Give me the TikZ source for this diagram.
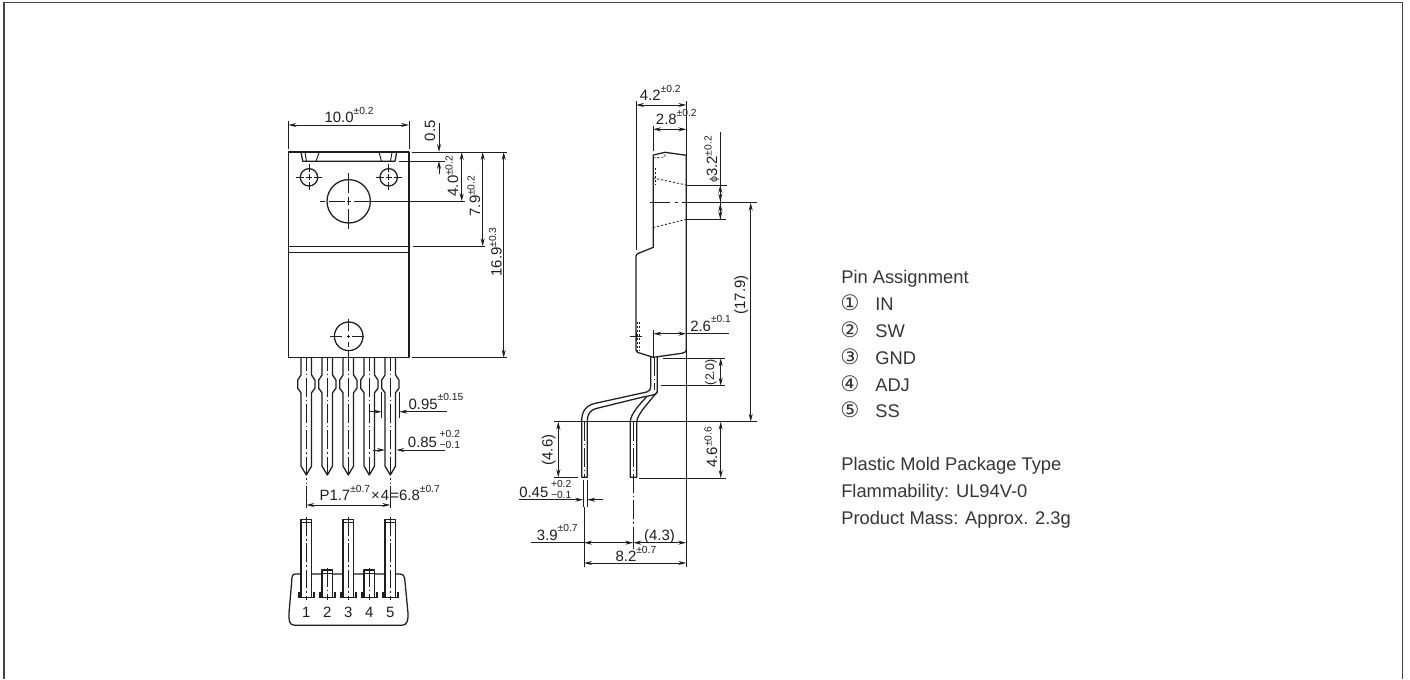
\documentclass[tikz,border=0pt]{standalone}
\usepackage{fontspec}
\setmainfont{Liberation Sans}
\newfontfamily\circfont{DejaVu Sans}
\usetikzlibrary{arrows.meta}
\definecolor{ink}{HTML}{1E1E1E}
\definecolor{framec}{HTML}{444444}
\newcommand{\mainsz}{\fontsize{11.2}{13}\selectfont}
\newcommand{\upp}[1]{\raisebox{6.3pt}{\fontsize{7.7}{9}\selectfont #1}}
\newcommand{\uppv}[1]{\raisebox{4.1pt}{\fontsize{7.7}{9}\selectfont #1}}
\newcommand{\stk}[2]{\hspace{2pt}\raisebox{0pt}{\rlap{\raisebox{7.5pt}{\fontsize{7.7}{9}\selectfont #1}}\raisebox{-0.8pt}{\fontsize{7.7}{9}\selectfont #2}}}
\newcommand{\holecross}[6]{% x y L g1 g2 (gap positions)
  \draw[dimline] (#1-#3,#2) -- (#1-#4,#2) (#1-#5,#2) -- (#1+#5,#2) (#1+#4,#2) -- (#1+#6,#2);
  \draw[dimline] (#1,#2-#3) -- (#1,#2-#4) (#1,#2-#5) -- (#1,#2+#5) (#1,#2+#4) -- (#1,#2+#3);
}
\newcommand{\pinfront}[2]{%
  \draw[outline,fill=white] (#1-5.3,357.7) -- (#1-5.3,375) -- (#1-8.6,380) -- (#1-8.6,388.3) -- (#1-5.3,392.7) -- (#1-5.3,466) -- (#1,475) -- (#1+5.3,466) -- (#1+5.3,392.7) -- (#1+8.6,388.3) -- (#1+8.6,380) -- (#1+5.3,375) -- (#1+5.3,357.7);
  \draw[center] (#1,352) -- (#1,#2);
}
\newcommand{\pinbottom}[2]{% x, top y
  \draw[outline,fill=white] (#1-5.3,597.3) -- (#1-5.3,#2) -- (#1+5.3,#2) -- (#1+5.3,597.3);
  \draw[dimline] (#1-5.3,#2+3) -- (#1+5.3,#2+3);
  \draw[dimline] (#1-8,591.5) -- (#1-8,597.3) -- (#1+8,597.3) -- (#1+8,591.5);
  \draw[dimline] (#1-6.7,591.5) -- (#1-6.7,597.3) (#1+6.7,591.5) -- (#1+6.7,597.3);
  \draw[center] (#1,#2-2) -- (#1,600);
}
\tikzset{
  outline/.style={draw=ink,line width=0.95pt,line join=round},
  dimline/.style={draw=ink,line width=0.7pt},
  center/.style={draw=ink,line width=0.6pt,dash pattern=on 14pt off 2.2pt on 1.2pt off 2.2pt},
  hidden/.style={draw=ink,line width=0.6pt,dash pattern=on 1.6pt off 1.4pt},
  dimtip/.style={{Stealth[length=6pt,width=3pt]}-{Stealth[length=6pt,width=3pt]}},
  endtip/.style={-{Stealth[length=6pt,width=3pt]}},
  lab/.style={inner sep=0pt,anchor=base west,text=ink,font=\mainsz},
  labc/.style={inner sep=0pt,anchor=base,text=ink,font=\mainsz},
  vlab/.style={inner sep=0pt,anchor=base west,rotate=90,text=ink,font=\mainsz},
  vlabc/.style={inner sep=0pt,anchor=base,rotate=90,text=ink,font=\mainsz},
  info/.style={inner sep=0pt,anchor=base west,text=ink!90!white,font=\fontsize{13.75}{16}\selectfont},
  circ/.style={info,font=\circfont\fontsize{16}{18}\selectfont},
}
\begin{document}
\begin{tikzpicture}[x=0.75pt,y=-0.75pt]
\useasboundingbox (0,0) rectangle (1410,679);
\draw[draw=framec,line width=1pt] (4,679) -- (4,2.5) -- (1402.5,2.5) -- (1402.5,679);

% ---------- FRONT VIEW ----------
\pinfront{306.3}{484}\pinfront{327.3}{475}\pinfront{348.3}{476}\pinfront{369.3}{475}\pinfront{390.3}{484}
\draw[outline,fill=white] (288.3,152) rectangle (409,357.7);
\draw[outline] (288.3,246.3) -- (409,246.3);
\draw[dimline] (288.3,252.7) -- (409,252.7);
\draw[outline] (301,152) -- (302.7,161.3) -- (395,161.3) -- (396.7,152);
\draw[dimline] (305,152) -- (306.5,161.3) (319.3,152) -- (316,161.3);
\draw[dimline] (379,152) -- (381.5,161.3) (392,152) -- (390.5,161.3);
\draw[outline] (309,177.3) circle (8.7);
\draw[outline] (388.7,177.3) circle (8.7);
\draw[outline] (348.7,201.3) circle (21.7);
\draw[outline] (348.7,336.3) circle (14.3);
\holecross{309}{177.3}{13}{5}{3}{13}
\holecross{388.7}{177.3}{13}{5}{3}{13}
% big hole centre lines
\draw[dimline] (320,201.3) -- (325,201.3) (329,201.3) -- (344.5,201.3) (347,201.3) -- (351,201.3) (353.5,201.3) -- (465,201.3);
\draw[dimline] (348.7,173.3) -- (348.7,193) (348.7,197) -- (348.7,205) (348.7,209) -- (348.7,229);
% lower hole centre lines
\draw[dimline] (330,336.3) -- (341.5,336.3) (347,336.3) -- (350,336.3) (352,336.3) -- (364.3,336.3);
\draw[dimline] (348.7,318.5) -- (348.7,331) (348.7,334.5) -- (348.7,338) (348.7,342) -- (348.7,347) (348.7,349.5) -- (348.7,357.7);

% dimensions of the front view
\draw[dimline] (288.3,120.7) -- (288.3,149.3) (409,120.7) -- (409,149.3);
\draw[dimline,dimtip] (288.3,125) -- (409,125);
\node (d100) [lab] at (324.3,122.7) {10.0\upp{±0.2}};
\draw[dimline] (412.3,152) -- (506.7,152);
\draw[dimline] (399.3,161) -- (445,161);
\draw[dimline,endtip] (439,123.3) -- (439,152);
\draw[dimline,endtip] (439,174.3) -- (439,161);
\node (d05) [vlabc] at (435,130.7) {0.5};
\draw[dimline,dimtip] (461.7,152) -- (461.7,201.3);
\node (d40) [vlab] at (458,196.7) {4.0\uppv{±0.2}};
\draw[dimline,dimtip] (482.7,152) -- (482.7,246.3);
\draw[dimline] (412.7,246.3) -- (485,246.3);
\node (d79) [vlab] at (480,216.7) {7.9\uppv{±0.2}};
\draw[dimline,dimtip] (503.7,152) -- (503.7,357.7);
\draw[dimline] (412,357.7) -- (506.7,357.7);
\node (d169) [vlab] at (501.7,276.7) {16.9\uppv{±0.3}};

\draw[dimline] (381.7,391.7) -- (381.7,418.3) (399.3,391.7) -- (399.3,418.3);
\draw[dimline,endtip] (369,411.7) -- (381.7,411.7);
\draw[dimline,endtip] (446.7,411.7) -- (399.3,411.7);
\node (d095) [lab] at (408.3,409.3) {0.95\upp{±0.15}};
\draw[dimline,endtip] (372.7,450) -- (385,450);
\draw[dimline,endtip] (445,450) -- (396.3,450);
\node (d085) [lab] at (407.7,447.7) {0.85\stk{+0.2}{−0.1}};
\draw[dimline] (306.3,486) -- (306.3,508) (390.3,486) -- (390.3,508);
\draw[dimline,dimtip] (306.3,505) -- (390.3,505);
\node (dp) [lab] at (319.3,500.7) {P1.7\upp{±0.7}\hspace{0.7pt}×\hspace{0.7pt}4\hspace{1pt}=6.8\upp{±0.7}};

% ---------- BOTTOM VIEW ----------
\draw[outline,fill=white] (295,574) .. controls (292.5,574) and (291.7,577) .. (291.7,581.7) -- (289,613) .. controls (288.7,620) and (289,625.3) .. (295,625.3) -- (402,625.3) .. controls (407,625.3) and (408.5,620) .. (408,613) -- (405,581.7) .. controls (405,577) and (403.5,574) .. (400,574) -- cycle;
\pinbottom{306.3}{519.3}
\pinbottom{327.3}{570}
\pinbottom{348.3}{519.3}
\pinbottom{369.3}{570}
\pinbottom{390.3}{519.3}
\node (n1) [labc] at (306.3,617.7) {1};
\node (n2) [labc] at (327.3,617.7) {2};
\node (n3) [labc] at (348.3,617.7) {3};
\node (n4) [labc] at (369.3,617.7) {4};
\node (n5) [labc] at (390.3,617.7) {5};

% ---------- SIDE VIEW ----------
% lead 1 (long)
\draw[outline] (650.7,357) -- (650.7,386) .. controls (650.7,390) and (649,391.3) .. (646.7,392) -- (595.3,403.3) .. controls (586,405.5) and (581.7,411) .. (581.7,421) -- (581.7,477.3) -- (587.3,477.3) -- (587.3,421) .. controls (587.3,414) and (590,410) .. (597,408.3) -- (643,397);
% lead 2
\draw[outline] (657.3,357) -- (657.3,391.7) .. controls (652,399) and (636.7,414) .. (636.7,422) -- (636.7,477.3) -- (630.3,477.3) -- (630.3,422) .. controls (630.3,414) and (640,404) .. (646.7,396.7);
\draw[outline] (643,397) .. controls (650,395.5) and (657.3,395) .. (657.3,391.7);
\draw[center] (654,357) -- (654,390);
\draw[center] (584.7,422) -- (584.7,477);
\draw[center] (633.3,422) -- (633.3,546);
% body
\draw[outline,fill=white] (653.3,155) -- (665,152.3) -- (686.3,155.3) -- (686.3,350) .. controls (686.3,352) and (684,353) .. (681.7,353.3) -- (653.3,357.3) -- (637.3,352.3) .. controls (636.5,351.8) and (636,351) .. (636,350) -- (636,256) .. controls (636,255) and (637,254) .. (638,253.5) -- (653.3,247.3) -- cycle;
\draw[hidden] (653.3,158) -- (665,157) -- (664.7,152.5);
\draw[hidden] (655,168) -- (655,185) (653.3,168) -- (653.3,185);
\draw[hidden] (653.3,178) -- (686.3,185);
\draw[hidden] (653.3,227.5) -- (686.3,219.3);
\draw[hidden] (637.6,322) -- (637.6,352) (639.6,322) -- (639.6,351);
\draw[dimline] (630,336.3) -- (641.7,336.3) (636,332) -- (636,341);
% centre line through the hole
\draw[dimline] (650,202.7) -- (670,202.7) (675,202.7) -- (677.5,202.7) (682,202.7) -- (756.7,202.7);
% dimensions of the side view
\draw[dimline] (636,101) -- (636,250) (686.3,101) -- (686.3,155);
\draw[dimline,dimtip] (636,105) -- (686.3,105);
\node (d42) [lab] at (639.7,100.5) {4.2\upp{±0.2}};
\draw[dimline] (653,125.7) -- (653,151);
\draw[dimline,dimtip] (653,129.3) -- (686.3,129.3);
\node (d28) [lab] at (655.7,124.5) {2.8\upp{±0.2}};
\draw[dimline] (720.3,132.3) -- (720.3,219.3);
\draw[dimline] (686.3,185) -- (726.7,185) (686.3,219.3) -- (725.7,219.3);
\draw[dimline,dimtip] (720.3,185) -- (720.3,201.5);
\draw[dimline,dimtip] (720.3,203.5) -- (720.3,219.3);
\node (d32) [vlab] at (717,183) {{\fontsize{8}{9}\selectfont ϕ}3.2\uppv{±0.2}};
\node (d179) [vlabc] at (745,295) {(17.9)};
\draw[dimline] (653.3,330) -- (653.3,357);
\draw[dimline,dimtip] (653.3,333.7) -- (686.3,333.7);
\draw[dimline] (686.3,333.7) -- (728.7,333.7);
\node (d26) [lab] at (690,331) {2.6\upp{±0.1}};
\draw[dimline] (663,358.3) -- (725,358.3) (660.7,385.7) -- (725,385.7);
\draw[dimline,dimtip] (720.7,358.3) -- (720.7,385.7);
\node (d20) [vlabc,font=\fontsize{9.3}{11}\selectfont] at (714,372.3) {(2.0)};
\draw[dimline] (554.3,421.7) -- (757.3,421.7);
\draw[dimline,dimtip] (750.7,202.7) -- (750.7,421.7);
\draw[dimline,dimtip] (720.7,421.7) -- (720.7,478);
\draw[dimline] (639,478) -- (726,478);
\node (d46) [vlab] at (717,468) {4.6\uppv{±0.6}};
\draw[dimline,dimtip] (558.3,421.7) -- (558.3,477.3);
\draw[dimline] (554.3,477.3) -- (578,477.3);
\node (d46b) [vlabc] at (552.7,450) {(4.6)};
\draw[dimline] (583.3,480) -- (583.3,507.3) (587.3,480) -- (587.3,507.3);
\draw[dimline,endtip] (519,499.7) -- (583.3,499.7);
\draw[dimline,endtip] (603,499.7) -- (587.3,499.7);
\node (d045) [lab] at (519,497) {0.45\stk{+0.2}{−0.1}};
\draw[dimline] (584,507) -- (584,566.7) (686.3,350) -- (686.3,566.7);
\draw[dimline] (633.3,545) -- (633.3,549);
\draw[dimline] (530.7,542.7) -- (584,542.7);
\draw[dimline,dimtip] (584,542.7) -- (633.3,542.7);
\draw[dimline,dimtip] (633.3,542.7) -- (686.3,542.7);
\node (d39) [lab] at (536.7,540) {3.9\upp{±0.7}};
\node (d43) [labc] at (659.5,540) {(4.3)};
\draw[dimline,dimtip] (584,563) -- (686.3,563);
\node (d82) [lab] at (615.3,561.5) {8.2\upp{±0.7}};

% ---------- TEXT ----------
\node (i0) [info] at (841,283.3) {Pin Assignment};
\node (c1) [circ] at (840,310) {①};
\node (l1) [info] at (875,310) {IN};
\node (c2) [circ] at (840,337) {②};
\node (l2) [info] at (875,337) {SW};
\node (c3) [circ] at (840,364) {③};
\node (l3) [info] at (875,364) {GND};
\node (c4) [circ] at (840,391) {④};
\node (l4) [info] at (875,391) {ADJ};
\node (c5) [circ] at (840,417) {⑤};
\node (l5) [info] at (875,417) {SS};
\node (i1) [info] at (841,470.7) {Plastic Mold Package Type};
\node (i2) [info] at (841,497.3) {Flammability: UL94V-0};
\node (i3) [info] at (841,524) {Product Mass: Approx. 2.3g};
\end{tikzpicture}
\end{document}
